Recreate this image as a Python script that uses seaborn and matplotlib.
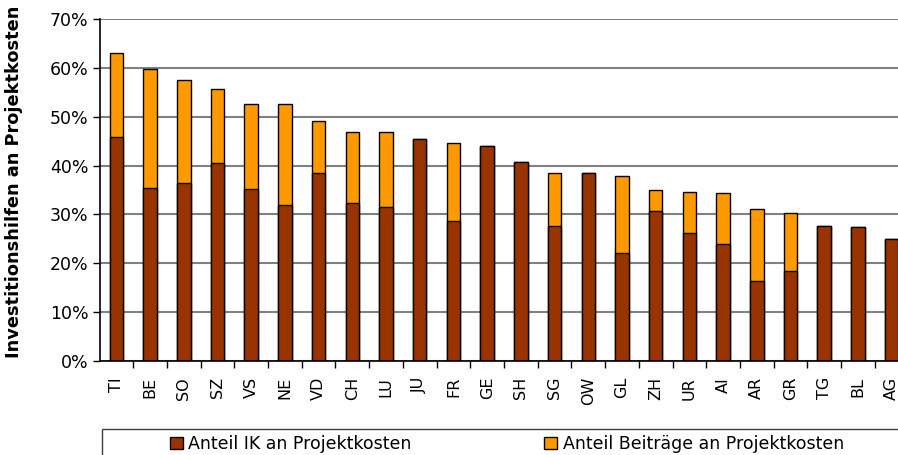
import matplotlib
matplotlib.use("Agg")
import matplotlib.pyplot as plt
from matplotlib.patches import Rectangle, Patch
from matplotlib.ticker import FixedLocator, PercentFormatter
import seaborn as sns
import pandas as pd

# cantons, sorted by total share of investment aid
kantone = ["TI", "BE", "SO", "SZ", "VS", "NE", "VD", "CH", "LU", "JU", "FR", "GE",
           "SH", "SG", "OW", "GL", "ZH", "UR", "AI", "AR", "GR", "TG", "BL", "AG"]
# share of IK (investment credits) in project costs, %
anteil_ik = [45.9, 35.4, 36.5, 40.6, 35.2, 31.9, 38.4, 32.4, 31.6, 45.5, 28.6, 44.1,
             40.8, 27.7, 38.4, 22.1, 30.7, 26.2, 23.9, 16.4, 18.5, 27.7, 27.5, 25.0]
# share of contributions in project costs, %
anteil_beitraege = [17.1, 24.3, 21.0, 15.0, 17.4, 20.7, 10.7, 14.5, 15.3, 0.0, 16.0, 0.0,
                    0.0, 10.7, 0.0, 15.8, 4.2, 8.4, 10.5, 14.7, 11.8, 0.0, 0.0, 0.0]

c_ik = "#993300"
c_beitrag = "#FF9900"

df = pd.DataFrame({"Kanton": kantone, "IK": anteil_ik, "Beitraege": anteil_beitraege})
df["Total"] = df["IK"] + df["Beitraege"]

sns.set_style("white")
plt.rcParams["font.family"] = ["DejaVu Sans"]
plt.rcParams["text.color"] = "black"
plt.rcParams["xtick.color"] = "black"
plt.rcParams["ytick.color"] = "black"
plt.rcParams["axes.labelcolor"] = "black"

fig = plt.figure(figsize=(8.98, 4.55), dpi=100)
W, H = 898, 455
ax = fig.add_axes([99.5 / W, 1 - 361 / H, 809 / W, 342 / H])

sns.barplot(data=df, x="Kanton", y="Total", color=c_beitrag, saturation=1,
            width=0.4, edgecolor="black", linewidth=1, ax=ax)
sns.barplot(data=df, x="Kanton", y="IK", color=c_ik, saturation=1,
            width=0.4, edgecolor="black", linewidth=1, ax=ax)

ax.set_ylim(0, 70)
ax.set_xlim(-0.5, len(kantone) - 0.5)
ax.set_yticks(range(0, 71, 10))
ax.yaxis.set_major_formatter(PercentFormatter(decimals=0))
ax.yaxis.grid(True, color="#808080", linewidth=1.5)
ax.set_axisbelow(True)

for s in ["top", "right"]:
    ax.spines[s].set_visible(False)
for s in ["left", "bottom"]:
    ax.spines[s].set_color("black")
    ax.spines[s].set_linewidth(1.2)

ax.tick_params(axis="y", which="major", left=True, length=5, width=1,
               labelsize=12.5, pad=3)
ax.tick_params(axis="x", which="major", bottom=False, labelsize=11.5, pad=8,
               labelrotation=90)
ax.xaxis.set_minor_locator(FixedLocator([i + 0.5 for i in range(len(kantone) - 1)]))
ax.tick_params(axis="x", which="minor", bottom=True, length=5, width=1)

ax.set_xlabel("")
ax.set_ylabel("Investitionshilfen an Projektkosten", fontsize=12.8, fontweight="bold")
ax.yaxis.set_label_coords(-0.095, 0.525)

# legend box, partly outside the figure as in the original
fig.patches.append(Rectangle((102 / W, -0.2), 1.0, 0.2 + 1 - 429 / H,
                             transform=fig.transFigure, fill=False,
                             edgecolor="#404040", linewidth=1))
handles = [Patch(facecolor=c_ik, edgecolor="black", label="Anteil IK an Projektkosten"),
           Patch(facecolor=c_beitrag, edgecolor="black", label="Anteil Beiträge an Projektkosten")]
fig.legend(handles=handles, loc="center left", bbox_to_anchor=(170 / W, 1 - 444 / H),
           ncol=2, frameon=False, fontsize=12.5, handlelength=0.75, handleheight=0.75,
           handletextpad=0.3, columnspacing=7.65, borderpad=0, borderaxespad=0)

fig.savefig("out.png", dpi=100)
